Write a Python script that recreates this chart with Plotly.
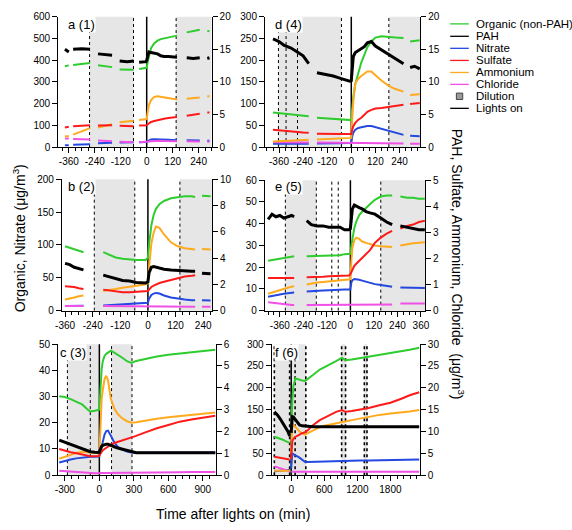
import plotly.graph_objects as go

W, H = 572, 530

# ---------------- DATA ----------------
# Panel a (1)
A_T   = [-378, -360, None, -340, -300, -262, None, -225, -190, -160, None, -125, -90, -60, None,
         -35, -3, 0, 5, 10, 20, 35, 50, 65, 80, 100, 120, 140, None, 185, 215, 245, None, 280, 290]
A_ORG = [372, 376, None, 378, 383, 387, None, 377, 372, 368, None, 357, 355, 356, None,
         359, 362, 365, 395, 420, 455, 478, 490, 497, 500, 504, 508, 513, None, 528, 533, 540, None, 535, 533]
A_PAH = [15.0, 14.6, None, 15.0, 15.1, 15.0, None, 14.3, 14.2, 14.1, None, 13.2, 13.1, 13.2, None,
         13.0, 13.1, 13.3, 14.2, 14.6, 14.5, 14.4, 14.3, 14.0, 13.9, 13.9, 13.8, 13.8, None, 13.7, 13.6, 13.7, None, 13.6, 13.7]
A_NIT = [8, 8, None, 10, 12, 13, None, 17, 19, 20, None, 21, 22, 22, None,
         22, 22, 23, 27, 31, 35, 36, 36, 35, 34, 33, 32, 31, None, 31, 30, 30, None, 29, 29]
A_SUL = [3.0, 3.1, None, 3.2, 3.3, 3.35, None, 3.3, 3.3, 3.35, None, 3.25, 3.2, 3.2, None,
         3.3, 3.35, 3.35, 3.5, 3.65, 3.85, 4.0, 4.15, 4.25, 4.35, 4.45, 4.55, 4.6, None, 4.8, 4.95, 5.1, None, 5.3, 5.3]
A_AMM = [1.6, 1.7, None, 1.9, 2.4, 2.9, None, 3.0, 3.3, 3.5, None, 3.8, 3.95, 4.05, None,
         4.15, 4.25, 4.3, 5.5, 6.4, 7.2, 7.7, 7.8, 7.7, 7.6, 7.45, 7.35, 7.3, None, 7.4, 7.5, 7.6, None, 7.8, 7.8]
A_CHL = [1.3, 1.3, None, 1.25, 1.2, 1.15, None, 1.0, 0.95, 0.9, None, 0.8, 0.78, 0.75, None,
         0.75, 0.75, 0.78, 0.8, 0.85, 0.9, 0.95, 0.95, 0.95, 0.92, 0.9, 0.9, 0.9, None, 0.88, 0.88, 0.86, None, 0.8, 0.8]
A_DIL = [(-264, -61), (136, 300)]
A_DOT = [-264, -61, 136]

# Panel b (2)
B_T   = [-360, -340, -320, -300, -280, None, -194, -170, -140, -110, -80, -50, -10,
         0, 5, 10, 15, 25, 35, 50, 70, 100, 130, 160, 190, 205, None, 235, 255, 272]
B_ORG = [98, 96, 94, 91, 89, None, 89, 85, 81, 79, 78, 77, 77,
         80, 100, 118, 130, 146, 155, 162, 167, 171, 173, 174, 174, 173, None, 175, 175, 174]
B_PAH = [3.6, 3.5, 3.3, 3.2, 3.1, None, 2.7, 2.6, 2.45, 2.3, 2.25, 2.15, 2.1,
         2.2, 2.9, 3.2, 3.3, 3.35, 3.3, 3.2, 3.15, 3.1, 3.05, 3.05, 3.0, 3.0, None, 2.85, 2.85, 2.8]
B_NIT = [7, 7, 7.5, 7.5, 7.5, None, 8, 8.5, 9, 9.5, 10, 10.5, 11,
         12, 18, 22, 24, 26, 27, 26, 23, 20, 18, 17, 16, 16, None, 16, 16, 15.5]
B_SUL = [1.85, 1.85, 1.8, 1.7, 1.65, None, 1.6, 1.55, 1.45, 1.4, 1.4, 1.45, 1.5,
         1.5, 1.6, 1.7, 1.8, 1.9, 2.0, 2.1, 2.2, 2.35, 2.5, 2.6, 2.65, 2.7, None, None, None, None]
B_AMM = [0.85, 0.9, 1.0, 1.1, 1.15, None, 1.5, 1.55, 1.65, 1.75, 1.85, 1.9, 2.0,
         2.1, 3.3, 4.3, 5.1, 5.95, 6.4, 6.3, 5.8, 5.2, 4.9, 4.75, 4.65, 4.65, None, 4.7, 4.7, 4.65]
B_CHL = [0.35, 0.35, 0.35, 0.35, 0.35, None, 0.35, 0.35, 0.33, 0.3, 0.3, 0.3, 0.3,
         0.3, 0.3, 0.3, 0.3, 0.3, 0.3, 0.3, 0.3, 0.3, 0.3, 0.3, 0.3, 0.3, None, 0.3, 0.3, 0.3]
B_DIL = [(-233, -57), (139, 278)]
B_DOT = [-233, -57, 139]

# Panel c (3)
C_T   = [-349, -300, -250, -200, -150, -100, -79, -40, -2, 2, 10, 20, 30, 45, 60, 75, 100, 130,
         160, 200, 240, 280, 320, 400, 500, 600, 700, 800, 900, 1009]
C_ORG = [30.1, 29.8, 29.0, 28.0, 27.0, 25.0, 24.3, 24.6, 25.0, 27.0, 35.0, 40.5, 43.5, 45.5, 46.3, 46.8, 47.5, 46.8,
         46.0, 44.8, 43.5, 42.8, 43.6, 44.4, 45.3, 46.0, 46.5, 47.0, 47.3, 47.9]
C_PAH = [1.6, 1.5, 1.4, 1.3, 1.2, 1.1, 1.07, 1.05, 1.04, 1.1, 1.25, 1.32, 1.36, 1.4, 1.42, 1.42, 1.38, 1.3,
         1.24, 1.18, 1.12, 1.06, 1.03, 1.03, 1.03, 1.03, 1.03, 1.03, 1.03, 1.03]
C_NIT = [4.8, 5.5, 6.0, 6.4, 6.7, 6.9, 7.0, 7.0, 7.1, 7.6, 9.0, 11.0, 13.0, 15.5, 16.8, 17.0, 15.0, 12.5,
         10.8, 9.7, 9.0, 8.6, 8.5, 8.5, 8.5, 8.5, 8.5, 8.6, 8.6, 8.6]
C_SUL = [1.2, 1.12, 1.05, 1.0, 0.94, 0.89, 0.87, 0.87, 0.88, 0.92, 1.0, 1.08, 1.14, 1.2, 1.26, 1.31, 1.4, 1.47,
         1.52, 1.57, 1.64, 1.72, 1.8, 1.96, 2.15, 2.3, 2.45, 2.55, 2.63, 2.72]
C_AMM = [0.75, 0.85, 0.95, 1.02, 1.07, 1.05, 1.02, 1.0, 1.0, 1.2, 2.6, 3.5, 3.9, 4.4, 4.55, 4.35, 3.5, 3.05,
         2.8, 2.6, 2.47, 2.4, 2.42, 2.5, 2.58, 2.65, 2.7, 2.75, 2.8, 2.87]
C_CHL = [0.2, 0.18, 0.15, 0.13, 0.11, 0.1, 0.09, 0.09, 0.09, 0.1, 0.1, 0.1, 0.1, 0.1, 0.1, 0.1, 0.1, 0.1,
         0.1, 0.11, 0.11, 0.11, 0.11, 0.12, 0.12, 0.13, 0.13, 0.14, 0.14, 0.14]
C_DIL = [(-278, 0), (106, 284)]
C_DOT = [-278, -79, 106, 284]

# Panel d (4)
D_T   = [-390, -360, -334, -300, -269, -240, -212, None, -171, -130, -90, -50, -8,
         0, 5, 10, 20, 35, 50, 65, 80, 100, 120, 150, 187, 220, 260, None, 293, 315, 341]
D_ORG = [79.5, 78, 76, 74, 73, 72, 71, None, 67.5, 66, 64.5, 63, 62,
         62, 90, 115, 145, 170, 195, 212, 230, 243, 252, 255, 253, 252, 251, None, 243, 244, 246]
D_PAH = [16.6, 16.2, 15.6, 15.2, 14.6, 14.0, 12.8, None, 11.4, 11.2, 10.9, 10.5, 10.1,
         10.2, 13.0, 13.9, 14.5, 14.8, 15.1, 15.4, 16.0, 16.2, 15.5, 14.9, 14.2, 13.5, 12.8, None, 12.2, 12.4, 12.0]
D_NIT = [7.5, 7.5, 7.5, 7.5, 7.5, 7.5, 7.5, None, 8, 8, 8, 8.5, 9,
         9, 25, 33, 40, 44, 45.5, 47, 48.5, 48.5, 46, 41, 36, 32, 28, None, 26, 25.5, 25]
D_SUL = [2.65, 2.55, 2.45, 2.35, 2.3, 2.25, 2.2, None, 2.05, 2.0, 2.0, 2.0, 2.0,
         2.0, 2.7, 3.2, 3.7, 4.2, 4.5, 4.9, 5.4, 5.7, 5.9, 6.0, 6.15, 6.3, 6.5, None, 6.6, 6.7, 6.75]
D_AMM = [0.85, 0.9, 0.95, 1.0, 1.05, 1.05, 1.1, None, 1.15, 1.2, 1.25, 1.3, 1.35,
         1.4, 4.5, 7.0, 9.8, 10.5, 10.9, 11.2, 11.6, 11.6, 11.0, 10.2, 9.4, 8.9, 8.5, None, 8.0, 8.0, 8.1]
D_CHL = [0.75, 0.75, 0.74, 0.73, 0.72, 0.71, 0.7, None, 0.68, 0.67, 0.66, 0.65, 0.65,
         0.6, 0.55, 0.55, 0.55, 0.55, 0.55, 0.55, 0.55, 0.55, 0.55, 0.55, 0.55, 0.55, 0.55, None, 0.5, 0.5, 0.5]
D_DIL = [(-363, -49), (187, 343)]
D_DOT = [-363, -325, -268, -49, 187]

# Panel e (5)
E_T   = [-420, -400, -380, -360, -340, -320, -300, -287, None,
         -223, -200, -170, -140, -110, -80, -53, -30, -7,
         0, 5, 10, 20, 30, 45, 60, 80, 100, 125, 155, 185, 213, None, 255, 290, 320, 350, 380]
E_ORG = [23.0, 23.3, 23.6, 23.9, 24.2, 24.5, 24.8, 25.0, None,
         25.0, 25.1, 25.2, 25.3, 25.4, 25.5, 25.5, 26.0, 26.0,
         26.2, 30.0, 33.5, 38.0, 41.0, 44.0, 45.5, 47.5, 49.0, 51.0, 52.5, 53.0, 53.0, None, 52.5, 52.0, 52.0, 51.5, 51.5]
E_PAH = [3.5, 3.7, 3.6, 3.65, 3.55, 3.6, 3.65, 3.6, None,
         3.45, 3.3, 3.25, 3.25, 3.2, 3.2, 3.2, 3.1, 3.1,
         3.15, 3.7, 3.9, 4.05, 4.0, 3.95, 3.9, 3.8, 3.75, 3.7, 3.55, 3.4, 3.3, None, 3.25, 3.2, 3.15, 3.1, 3.1]
E_NIT = [6.4, 6.8, 7.2, 7.5, 7.8, 8.0, 8.2, 8.3, None,
         8.8, 9.0, 9.2, 9.3, 9.4, 9.6, 9.7, 9.7, 9.7,
         9.8, 13.0, 14.0, 14.5, 14.5, 14.2, 13.8, 13.2, 12.7, 12.2, 11.8, 11.3, 11.0, None, 10.7, 10.6, 10.5, 10.4, 10.4]
E_SUL = [1.25, 1.25, 1.25, 1.25, 1.25, 1.25, 1.25, 1.25, None,
         1.28, 1.28, 1.3, 1.3, 1.32, 1.33, 1.34, 1.34, 1.35,
         1.4, 1.5, 1.6, 1.72, 1.8, 1.92, 2.02, 2.18, 2.32, 2.6, 2.8, 2.95, 3.06, None, 3.15, 3.25, 3.3, 3.4, 3.45]
E_AMM = [0.65, 0.7, 0.76, 0.8, 0.85, 0.88, 0.92, 0.94, None,
         1.0, 1.04, 1.08, 1.1, 1.12, 1.14, 1.16, 1.18, 1.19,
         1.2, 1.9, 2.4, 2.7, 2.8, 2.75, 2.65, 2.6, 2.55, 2.5, 2.47, 2.45, 2.44, None, 2.5, 2.55, 2.58, 2.6, 2.62]
E_CHL = [0.32, 0.3, 0.28, 0.26, 0.24, 0.23, 0.22, 0.22, None,
         0.22, 0.22, 0.22, 0.22, 0.22, 0.22, 0.22, 0.22, 0.22,
         0.24, 0.24, 0.24, 0.24, 0.24, 0.24, 0.24, 0.24, 0.24, 0.24, 0.24, 0.24, 0.24, None, 0.27, 0.27, 0.27, 0.27, 0.27]
E_DIL = [(-332, -174), (155, 381)]
E_DOT = [-332, -174, -95, -62, 155]

# Panel f (6)
F_T   = [-307, -250, -200, -150, -100, -60, -28, None,
         0, 10, 20, 40, 60, 80, 110, 150, 200, 253, 300, 400, 519, 600, 700, 815, 921, 980,
         1100, 1250, 1406, 1600, 1800, 1998, 2150, 2323]
F_ORG = [88, 86, 84, 81, 78, 76, 74, None,
         90, 140, 170, 205, 218, 222, 220, 218, 217, 216, 220, 230, 242, 247, 254, 261, 269, 263,
         265, 268, 272, 276, 279, 283, 287, 292]
F_PAH = [14.5, 13.8, 12.9, 11.9, 11.0, 10.0, 9.0, None,
         9.7, 13.2, 13.4, 13.3, 13.0, 12.6, 12.0, 11.5, 11.3, 11.2, 11.2, 11.1, 11.1, 11.1, 11.1, 11.1, 11.1, 11.1,
         11.1, 11.1, 11.1, 11.1, 11.1, 11.1, 11.1, 11.1]
F_NIT = [9, 10, 10.5, 11, 11.5, 12, 12, None,
         15, 45, 50, 48, 47, 45.5, 43, 40, 35, 30, 30, 30.5, 31, 31, 31.5, 32, 32.5, 32.5,
         33, 33.3, 33.6, 34, 34.5, 35, 35.5, 36]
F_SUL = [4.2, 4.1, 4.0, 3.9, 3.8, 3.7, 3.6, None,
         3.7, 6.5, 7.8, 8.3, 8.6, 8.8, 9.0, 9.3, 9.6, 9.85, 10.3, 11.5, 12.6, 13.1, 13.7, 14.5, 14.9, 14.5,
         14.7, 15.0, 15.4, 16.0, 16.6, 17.5, 18.3, 19.0]
F_AMM = [1.0, 1.0, 1.0, 1.0, 1.0, 1.0, 1.0, None,
         5.2, 9.5, 11.0, 11.6, 11.3, 11.0, 10.5, 10.0, 9.6, 9.3, 9.6, 10.3, 11.0, 11.3, 11.6, 11.9, 12.2, 12.3,
         12.6, 13.0, 13.4, 13.8, 14.1, 14.3, 14.6, 14.9]
F_CHL = [2.0, 1.8, 1.6, 1.4, 1.2, 1.0, 0.9, None,
         0.75, 0.75, 0.75, 0.75, 0.75, 0.75, 0.75, 0.75, 0.75, 0.75, 0.75, 0.75, 0.75, 0.75, 0.75, 0.75, 0.75, 0.75,
         0.75, 0.75, 0.75, 0.75, 0.75, 0.75, 0.75, 0.75]
F_DIL = [(-306, 265), (915, 986), (1327, 1375)]
F_DOT = [-306, -28, 71, 265, 915, 986, 1327, 1375]

# Tick labels
X_TICKS_ABD = [-360, -240, -120, 0, 120, 240]
X_TICKS_E = [-360, -240, -120, 0, 120, 240, 360]
X_TICKS_C = [-300, 0, 300, 600, 900]
X_TICKS_F = [0, 600, 1200, 1800]
A_YL = [0, 100, 200, 300, 400, 500, 600]; A_YR = [0, 5, 10, 15, 20]
B_YL = [0, 50, 100, 150, 200];            B_YR = [0, 2, 4, 6, 8, 10]
C_YL = [0, 10, 20, 30, 40, 50];           C_YR = [0, 1, 2, 3, 4, 5, 6]
D_YL = [0, 50, 100, 150, 200, 250, 300];  D_YR = [0, 5, 10, 15, 20]
E_YL = [0, 10, 20, 30, 40, 50, 60];       E_YR = [0, 1, 2, 3, 4, 5]
F_YL = [0, 50, 100, 150, 200, 250, 300];  F_YR = [0, 5, 10, 15, 20, 25, 30]

SERIES_NAMES = ["Organic (non-PAH)", "PAH", "Nitrate", "Sulfate", "Ammonium", "Chloride"]

# ---------------- STYLE ----------------
FONT = "Liberation Sans, Arial, Helvetica, sans-serif"
COL = {"ORG": "#2ecc2e", "PAH": "#000000", "NIT": "#2448e0", "SUL": "#ff1a1a",
       "AMM": "#ffaa1e", "CHL": "#f050e6"}
GRAY = "#e6e6e6"

def px_x(p):
    return p / W

def px_y(p):
    return 1 - p / H

# panel geometry in pixels: (left, right, top, bottom), x-range, minor dtick, label pos
panels = [
    dict(lab="a (1)", T=A_T, ORG=A_ORG, PAH=A_PAH, NIT=A_NIT, SUL=A_SUL, AMM=A_AMM, CHL=A_CHL,
         DIL=A_DIL, DOT=A_DOT, XT=X_TICKS_ABD, YL=A_YL, YR=A_YR,
         box=(52.3, 209, 11, 144.3), xr=(-409, 300), minor=30, labpos=(61.5, 18.5)),
    dict(lab="b (2)", T=B_T, ORG=B_ORG, PAH=B_PAH, NIT=B_NIT, SUL=B_SUL, AMM=B_AMM, CHL=B_CHL,
         DIL=B_DIL, DOT=B_DOT, XT=X_TICKS_ABD, YL=B_YL, YR=B_YR,
         box=(56, 209.3, 177.3, 311.7), xr=(-374, 278), minor=30, labpos=(61.5, 185)),
    dict(lab="c (3)", T=C_T, ORG=C_ORG, PAH=C_PAH, NIT=C_NIT, SUL=C_SUL, AMM=C_AMM, CHL=C_CHL,
         DIL=C_DIL, DOT=C_DOT, XT=X_TICKS_C, YL=C_YL, YR=C_YR,
         box=(52.3, 213.3, 346, 480), xr=(-358, 1013), minor=60, labpos=(53.5, 355)),
    dict(lab="d (4)", T=D_T, ORG=D_ORG, PAH=D_PAH, NIT=D_NIT, SUL=D_SUL, AMM=D_AMM, CHL=D_CHL,
         DIL=D_DIL, DOT=D_DOT, XT=X_TICKS_ABD, YL=D_YL, YR=D_YR,
         box=(263.5, 422, 11, 144.3), xr=(-430, 343), minor=30, labpos=(272.5, 18.5)),
    dict(lab="e (5)", T=E_T, ORG=E_ORG, PAH=E_PAH, NIT=E_NIT, SUL=E_SUL, AMM=E_AMM, CHL=E_CHL,
         DIL=E_DIL, DOT=E_DOT, XT=X_TICKS_E, YL=E_YL, YR=E_YR,
         box=(263.3, 427, 178.3, 311.7), xr=(-437, 381), minor=30, labpos=(272.5, 185)),
    dict(lab="f (6)", T=F_T, ORG=F_ORG, PAH=F_PAH, NIT=F_NIT, SUL=F_SUL, AMM=F_AMM, CHL=F_CHL,
         DIL=F_DIL, DOT=F_DOT, XT=X_TICKS_F, YL=F_YL, YR=F_YR,
         box=(270.3, 421.7, 346, 480), xr=(-355, 2334), minor=120, labpos=(272.5, 355)),
]

fig = go.Figure()
layout = dict(width=W, height=H, margin=dict(l=0, r=0, t=0, b=0),
              paper_bgcolor="white", plot_bgcolor="white", showlegend=False,
              font=dict(family=FONT, size=10, color="black"))
shapes = []
annotations = []

def ticktext(vals):
    return [("-" + str(-v)) if v < 0 else str(v) for v in vals]

for i, p in enumerate(panels, start=1):
    xname = "x" if i == 1 else f"x{i}"
    ylnum, yrnum = 2 * i - 1, 2 * i
    ylname = "y" if ylnum == 1 else f"y{ylnum}"
    yrname = f"y{yrnum}"
    l, r, t, b = p["box"]
    axcommon = dict(showgrid=False, zeroline=False, showline=True, linecolor="black", linewidth=1,
                    ticks="outside", tickcolor="black", tickwidth=1, ticklen=5,
                    tickfont=dict(family=FONT, size=10, color="black"))
    layout["xaxis" + ("" if i == 1 else str(i))] = dict(
        domain=[px_x(l), px_x(r)], anchor=ylname, range=list(p["xr"]),
        tickmode="array", tickvals=p["XT"], ticktext=ticktext(p["XT"]),
        minor=dict(ticks="outside", ticklen=3, tickcolor="black", tickwidth=1,
                   tickmode="linear", tick0=0, dtick=p["minor"], showgrid=False),
        **axcommon)
    layout["yaxis" + ("" if ylnum == 1 else str(ylnum))] = dict(
        domain=[px_y(b), px_y(t)], anchor=xname, range=[p["YL"][0], p["YL"][-1]],
        tickmode="array", tickvals=p["YL"], side="left", **axcommon)
    layout["yaxis" + str(yrnum)] = dict(
        overlaying=ylname, anchor=xname, side="right", range=[p["YR"][0], p["YR"][-1]],
        tickmode="array", tickvals=p["YR"], **axcommon)

    # left axis series
    for key in ["ORG", "NIT"]:
        fig.add_trace(go.Scatter(x=p["T"], y=p[key], xaxis=xname, yaxis=ylname, mode="lines",
                                 line=dict(color=COL[key], width=2), connectgaps=False,
                                 hoverinfo="skip"))
    # right axis series
    for key in ["CHL", "AMM", "SUL", "PAH"]:
        w = 3 if key == "PAH" else 2
        fig.add_trace(go.Scatter(x=p["T"], y=p[key], xaxis=xname, yaxis=yrname, mode="lines",
                                 line=dict(color=COL[key], width=w), connectgaps=False,
                                 hoverinfo="skip"))

    yref = f"{ylname} domain"
    for (x0, x1) in p["DIL"]:
        shapes.append(dict(type="rect", xref=xname, yref=yref, x0=x0, x1=x1, y0=0, y1=1,
                           fillcolor=GRAY, line=dict(width=0), layer="below"))
    dotw = 1.6 if i == 6 else 1
    for xd in p["DOT"]:
        shapes.append(dict(type="line", xref=xname, yref=yref, x0=xd, x1=xd, y0=0, y1=1,
                           line=dict(color="black", width=dotw, dash="dot"), layer="below"))
    shapes.append(dict(type="line", xref=xname, yref=yref, x0=0, x1=0, y0=0, y1=1,
                       line=dict(color="black", width=1.5), layer="below"))

    lx, ly = p["labpos"]
    annotations.append(dict(text=p["lab"], x=px_x(lx), y=px_y(ly), xref="paper", yref="paper",
                            xanchor="left", yanchor="middle", showarrow=False, bgcolor="white",
                            borderpad=0, font=dict(family=FONT, size=13, color="black")))

# ---------------- manual legend ----------------
legend_rows = [18.3, 31, 43.3, 55.7, 68, 80.2, 92.4, 104.7]
legend_items = [("line", COL["ORG"], SERIES_NAMES[0]), ("line", COL["PAH"], SERIES_NAMES[1]),
                ("line", COL["NIT"], SERIES_NAMES[2]), ("line", COL["SUL"], SERIES_NAMES[3]),
                ("line", COL["AMM"], SERIES_NAMES[4]), ("line", COL["CHL"], SERIES_NAMES[5]),
                ("box", "#9a9a9a", "Dilution"), ("line", "#000000", "Lights on")]
for yrow, (kind, col, name) in zip(legend_rows, legend_items):
    if kind == "line":
        shapes.append(dict(type="line", xref="paper", yref="paper", x0=px_x(452.7), x1=px_x(471.7),
                           y0=px_y(yrow), y1=px_y(yrow), line=dict(color=col, width=1.3)))
    else:
        shapes.append(dict(type="rect", xref="paper", yref="paper", x0=px_x(459), x1=px_x(465.5),
                           y0=px_y(yrow + 3.3), y1=px_y(yrow - 3.3), fillcolor=col,
                           line=dict(color="#444444", width=1)))
    annotations.append(dict(text=name, x=px_x(476.5), y=px_y(yrow), xref="paper", yref="paper",
                            xanchor="left", yanchor="middle", showarrow=False,
                            font=dict(family=FONT, size=11.5, color="black")))

# ---------------- axis titles ----------------
annotations.append(dict(text="Organic, Nitrate (μg/m<sup>3</sup>)", x=px_x(12), y=px_y(238),
                        xref="paper", yref="paper", textangle=-90, showarrow=False,
                        xanchor="center", yanchor="middle",
                        font=dict(family=FONT, size=14, color="black")))
annotations.append(dict(text="PAH, Sulfate, Ammonium, Chloride  (μg/m<sup>3</sup>)", x=px_x(461),
                        y=px_y(264), xref="paper", yref="paper", textangle=90, showarrow=False,
                        xanchor="center", yanchor="middle",
                        font=dict(family=FONT, size=14, color="black")))
annotations.append(dict(text="Time after lights on (min)", x=px_x(231), y=px_y(520),
                        xref="paper", yref="paper", showarrow=False,
                        xanchor="center", yanchor="middle",
                        font=dict(family=FONT, size=14, color="black")))

layout["shapes"] = shapes
layout["annotations"] = annotations
fig.update_layout(**layout)
fig.write_html("out.html")
